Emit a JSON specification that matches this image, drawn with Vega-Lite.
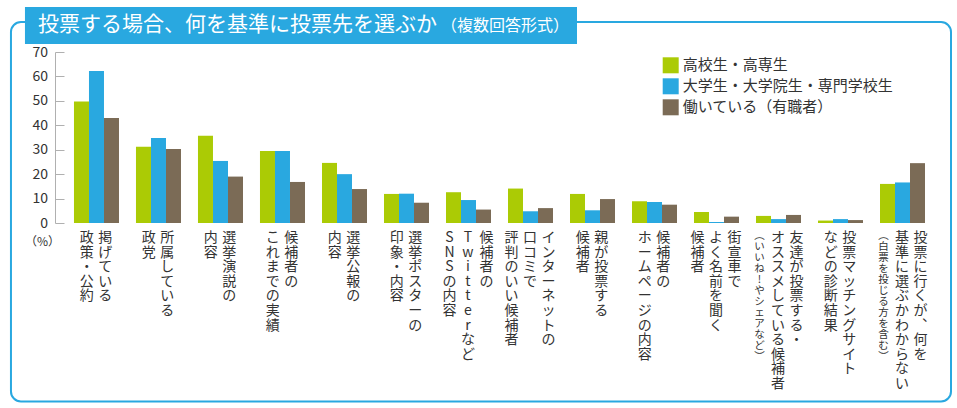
{
  "$schema": "https://vega.github.io/schema/vega-lite/v6.json",
  "width": 892,
  "height": 171,
  "autosize": {"type": "none"},
  "padding": {"left": 55, "top": 52, "right": 10, "bottom": 185},
  "background": "white",
  "config": {
    "view": {"stroke": null},
    "font": "Noto Sans CJK JP",
    "text": {"font": "Noto Sans CJK JP"}
  },
  "datasets": {
    "bars": [
      {"cat": "掲げている政策・公約", "group": "高校生・高専生", "pct": 49.7},
      {"cat": "掲げている政策・公約", "group": "大学生・大学院生・専門学校生", "pct": 62.2},
      {"cat": "掲げている政策・公約", "group": "働いている（有職者）", "pct": 43.0},
      {"cat": "所属している政党", "group": "高校生・高専生", "pct": 31.2},
      {"cat": "所属している政党", "group": "大学生・大学院生・専門学校生", "pct": 34.8},
      {"cat": "所属している政党", "group": "働いている（有職者）", "pct": 30.3},
      {"cat": "選挙演説の内容", "group": "高校生・高専生", "pct": 35.7},
      {"cat": "選挙演説の内容", "group": "大学生・大学院生・専門学校生", "pct": 25.4},
      {"cat": "選挙演説の内容", "group": "働いている（有職者）", "pct": 19.0},
      {"cat": "候補者のこれまでの実績", "group": "高校生・高専生", "pct": 29.5},
      {"cat": "候補者のこれまでの実績", "group": "大学生・大学院生・専門学校生", "pct": 29.5},
      {"cat": "候補者のこれまでの実績", "group": "働いている（有職者）", "pct": 16.8},
      {"cat": "選挙公報の内容", "group": "高校生・高専生", "pct": 24.6},
      {"cat": "選挙公報の内容", "group": "大学生・大学院生・専門学校生", "pct": 20.0},
      {"cat": "選挙公報の内容", "group": "働いている（有職者）", "pct": 13.9},
      {"cat": "選挙ポスターの印象・内容", "group": "高校生・高専生", "pct": 11.9},
      {"cat": "選挙ポスターの印象・内容", "group": "大学生・大学院生・専門学校生", "pct": 12.0},
      {"cat": "選挙ポスターの印象・内容", "group": "働いている（有職者）", "pct": 8.3},
      {"cat": "候補者のTwitterなどSNSの内容", "group": "高校生・高専生", "pct": 12.6},
      {"cat": "候補者のTwitterなどSNSの内容", "group": "大学生・大学院生・専門学校生", "pct": 9.4},
      {"cat": "候補者のTwitterなどSNSの内容", "group": "働いている（有職者）", "pct": 5.5},
      {"cat": "インターネットの口コミで評判のいい候補者", "group": "高校生・高専生", "pct": 14.1},
      {"cat": "インターネットの口コミで評判のいい候補者", "group": "大学生・大学院生・専門学校生", "pct": 4.8},
      {"cat": "インターネットの口コミで評判のいい候補者", "group": "働いている（有職者）", "pct": 6.1},
      {"cat": "親が投票する候補者", "group": "高校生・高専生", "pct": 11.9},
      {"cat": "親が投票する候補者", "group": "大学生・大学院生・専門学校生", "pct": 5.2},
      {"cat": "親が投票する候補者", "group": "働いている（有職者）", "pct": 9.8},
      {"cat": "候補者のホームページの内容", "group": "高校生・高専生", "pct": 8.9},
      {"cat": "候補者のホームページの内容", "group": "大学生・大学院生・専門学校生", "pct": 8.6},
      {"cat": "候補者のホームページの内容", "group": "働いている（有職者）", "pct": 7.5},
      {"cat": "街宣車でよく名前を聞く候補者", "group": "高校生・高専生", "pct": 4.5},
      {"cat": "街宣車でよく名前を聞く候補者", "group": "大学生・大学院生・専門学校生", "pct": 0.4},
      {"cat": "街宣車でよく名前を聞く候補者", "group": "働いている（有職者）", "pct": 2.6},
      {"cat": "友達が投票する・オススメしている候補者", "group": "高校生・高専生", "pct": 2.9},
      {"cat": "友達が投票する・オススメしている候補者", "group": "大学生・大学院生・専門学校生", "pct": 1.6},
      {"cat": "友達が投票する・オススメしている候補者", "group": "働いている（有職者）", "pct": 3.3},
      {"cat": "投票マッチングサイトなどの診断結果", "group": "高校生・高専生", "pct": 1.0},
      {"cat": "投票マッチングサイトなどの診断結果", "group": "大学生・大学院生・専門学校生", "pct": 1.6},
      {"cat": "投票マッチングサイトなどの診断結果", "group": "働いている（有職者）", "pct": 1.2},
      {"cat": "投票に行くが、何を基準に選ぶかわからない", "group": "高校生・高専生", "pct": 16.0},
      {"cat": "投票に行くが、何を基準に選ぶかわからない", "group": "大学生・大学院生・専門学校生", "pct": 16.6},
      {"cat": "投票に行くが、何を基準に選ぶかわからない", "group": "働いている（有職者）", "pct": 24.5}
    ],
    "labels": [
      {"cat": "掲げている政策・公約", "col": 0.5, "kind": "main", "t": "掲げている"},
      {"cat": "掲げている政策・公約", "col": -0.5, "kind": "main", "t": "政策・公約"},
      {"cat": "所属している政党", "col": 0.5, "kind": "main", "t": "所属している"},
      {"cat": "所属している政党", "col": -0.5, "kind": "main", "t": "政党"},
      {"cat": "選挙演説の内容", "col": 0.5, "kind": "main", "t": "選挙演説の"},
      {"cat": "選挙演説の内容", "col": -0.5, "kind": "main", "t": "内容"},
      {"cat": "候補者のこれまでの実績", "col": 0.5, "kind": "main", "t": "候補者の"},
      {"cat": "候補者のこれまでの実績", "col": -0.5, "kind": "main", "t": "これまでの実績"},
      {"cat": "選挙公報の内容", "col": 0.5, "kind": "main", "t": "選挙公報の"},
      {"cat": "選挙公報の内容", "col": -0.5, "kind": "main", "t": "内容"},
      {"cat": "選挙ポスターの印象・内容", "col": 0.5, "kind": "main", "t": "選挙ポスターの"},
      {"cat": "選挙ポスターの印象・内容", "col": -0.5, "kind": "main", "t": "印象・内容"},
      {"cat": "候補者のTwitterなどSNSの内容", "col": 1, "kind": "main", "t": "候補者の"},
      {"cat": "候補者のTwitterなどSNSの内容", "col": 0, "kind": "main", "t": "Twitterなど"},
      {"cat": "候補者のTwitterなどSNSの内容", "col": -1, "kind": "main", "t": "SNSの内容"},
      {"cat": "インターネットの口コミで評判のいい候補者", "col": 1, "kind": "main", "t": "インターネットの"},
      {"cat": "インターネットの口コミで評判のいい候補者", "col": 0, "kind": "main", "t": "口コミで"},
      {"cat": "インターネットの口コミで評判のいい候補者", "col": -1, "kind": "main", "t": "評判のいい候補者"},
      {"cat": "親が投票する候補者", "col": 0.5, "kind": "main", "t": "親が投票する"},
      {"cat": "親が投票する候補者", "col": -0.5, "kind": "main", "t": "候補者"},
      {"cat": "候補者のホームページの内容", "col": 0.5, "kind": "main", "t": "候補者の"},
      {"cat": "候補者のホームページの内容", "col": -0.5, "kind": "main", "t": "ホームページの内容"},
      {"cat": "街宣車でよく名前を聞く候補者", "col": 1, "kind": "main", "t": "街宣車で"},
      {"cat": "街宣車でよく名前を聞く候補者", "col": 0, "kind": "main", "t": "よく名前を聞く"},
      {"cat": "街宣車でよく名前を聞く候補者", "col": -1, "kind": "main", "t": "候補者"},
      {"cat": "友達が投票する・オススメしている候補者", "col": 1, "kind": "main", "t": "友達が投票する・"},
      {"cat": "友達が投票する・オススメしている候補者", "col": 0, "kind": "main", "t": "オススメしている候補者"},
      {"cat": "友達が投票する・オススメしている候補者", "col": -1, "kind": "note", "t": "︵いいね!やシェアなど︶"},
      {"cat": "投票マッチングサイトなどの診断結果", "col": 0.5, "kind": "main", "t": "投票マッチングサイト"},
      {"cat": "投票マッチングサイトなどの診断結果", "col": -0.5, "kind": "main", "t": "などの診断結果"},
      {"cat": "投票に行くが、何を基準に選ぶかわからない", "col": 1, "kind": "main", "t": "投票に行くが︑何を"},
      {"cat": "投票に行くが、何を基準に選ぶかわからない", "col": 0, "kind": "main", "t": "基準に選ぶかわからない"},
      {"cat": "投票に行くが、何を基準に選ぶかわからない", "col": -1, "kind": "note", "t": "︵白票を投じる方を含む︶"}
    ],
    "deco": [{"part": "decoration"}]
  },
  "resolve": {"scale": {"xOffset": "independent"}, "axis": {"y": "independent"}},
  "layer": [
    {
      "data": {"name": "deco"},
      "mark": {"type": "rect", "fill": "white", "fillOpacity": 0, "stroke": "#29a8e0", "strokeWidth": 2, "cornerRadius": 10},
      "encoding": {
        "x": {"datum": "掲げている政策・公約", "bandPosition": -1.4, "axis": null},
        "x2": {"datum": "投票に行くが、何を基準に選ぶかわからない", "bandPosition": 1.578},
        "y": {"datum": 82.28, "type": "quantitative", "scale": {"domain": [0, 70]}, "axis": null},
        "y2": {"datum": -73.07}
      }
    },
    {
      "data": {"name": "deco"},
      "mark": {"type": "rect", "fill": "#29a8e0"},
      "encoding": {
        "x": {"datum": "掲げている政策・公約", "bandPosition": -1.089, "axis": null},
        "x2": {"datum": "親が投票する候補者", "bandPosition": 0.156},
        "y": {"datum": 88.42, "type": "quantitative", "scale": {"domain": [0, 70]}, "axis": null},
        "y2": {"datum": 73.27}
      }
    },
    {
      "data": {"name": "deco"},
      "mark": {"type": "text", "align": "left", "baseline": "middle", "fontSize": 21, "color": "white"},
      "encoding": {
        "x": {"datum": "掲げている政策・公約", "bandPosition": -0.8, "axis": null},
        "y": {"datum": 80.85, "type": "quantitative", "scale": {"domain": [0, 70]}, "axis": null},
        "text": {"value": "投票する場合、何を基準に投票先を選ぶか"}
      }
    },
    {
      "data": {"name": "deco"},
      "mark": {"type": "text", "align": "right", "baseline": "middle", "fontSize": 16, "color": "white"},
      "encoding": {
        "x": {"datum": "親が投票する候補者", "bandPosition": -0.02, "axis": null},
        "y": {"datum": 80.7, "type": "quantitative", "scale": {"domain": [0, 70]}, "axis": null},
        "text": {"value": "（複数回答形式）"}
      }
    },
    {
      "data": {"name": "bars"},
      "mark": {"type": "bar"},
      "encoding": {
        "x": {
          "field": "cat", "type": "nominal",
          "scale": {
            "domain": ["掲げている政策・公約", "所属している政党", "選挙演説の内容", "候補者のこれまでの実績", "選挙公報の内容", "選挙ポスターの印象・内容", "候補者のTwitterなどSNSの内容", "インターネットの口コミで評判のいい候補者", "親が投票する候補者", "候補者のホームページの内容", "街宣車でよく名前を聞く候補者", "友達が投票する・オススメしている候補者", "投票マッチングサイトなどの診断結果", "投票に行くが、何を基準に選ぶかわからない"],
            "paddingInner": 0.274, "paddingOuter": 0.3306, "align": 0.463
          },
          "axis": {"labels": false, "ticks": false, "title": null, "domainColor": "#b0b0b0", "domainWidth": 1.5, "grid": false}
        },
        "xOffset": {
          "field": "group", "type": "nominal",
          "scale": {"domain": ["高校生・高専生", "大学生・大学院生・専門学校生", "働いている（有職者）"]}
        },
        "y": {
          "field": "pct", "type": "quantitative",
          "scale": {"domain": [0, 70]},
          "axis": {
            "orient": "left",
            "values": [0, 10, 20, 30, 40, 50, 60, 70],
            "grid": false, "ticks": false,
            "domainColor": "#b0b0b0",
            "labelPadding": 7.5, "labelFontSize": 14, "labelColor": "#333333",
            "title": "（%）", "titleAngle": 0, "titleX": -13, "titleY": 189,
            "titleAlign": "center", "titleBaseline": "middle", "titleFontSize": 12,
            "titleFontWeight": "normal", "titleColor": "#333333"
          }
        },
        "color": {
          "field": "group", "type": "nominal",
          "scale": {
            "domain": ["高校生・高専生", "大学生・大学院生・専門学校生", "働いている（有職者）"],
            "range": ["#abcb05", "#29a8e0", "#7b6b56"]
          },
          "legend": {
            "orient": "none", "legendX": 607.7, "legendY": 5.3, "title": null,
            "symbolType": "square", "symbolSize": 256, "symbolStrokeWidth": 0, "symbolOpacity": 1,
            "labelFontSize": 15, "labelColor": "#333333", "labelLimit": 400,
            "rowPadding": 5, "labelOffset": 4, "padding": 0
          }
        }
      }
    },
    {
      "data": {"name": "labels"},
      "transform": [
        {"filter": "datum.kind == 'main'"},
        {"calculate": "split(datum.t, '')", "as": "chars"}
      ],
      "mark": {"type": "text", "align": "center", "baseline": "top", "fontSize": 14, "lineHeight": 14.6, "dy": 8, "color": "#333333"},
      "encoding": {
        "x": {"field": "cat", "type": "nominal", "axis": null},
        "xOffset": {"field": "col", "type": "quantitative", "scale": {"domain": [-1.189, 1.243]}},
        "y": {
          "datum": 0, "type": "quantitative", "scale": {"domain": [0, 70]},
          "axis": {
            "orient": "left", "offset": -9, "values": [0, 10, 20, 30, 40, 50, 60, 70],
            "domain": false, "labels": false, "grid": false, "title": null,
            "ticks": true, "tickSize": 9, "tickColor": "#b0b0b0"
          }
        },
        "text": {"field": "chars"}
      }
    },
    {
      "data": {"name": "labels"},
      "transform": [
        {"filter": "datum.kind == 'note'"},
        {"calculate": "split(datum.t, '')", "as": "chars"}
      ],
      "mark": {"type": "text", "align": "center", "baseline": "top", "fontSize": 10.5, "lineHeight": 11, "dy": 8, "color": "#333333"},
      "encoding": {
        "x": {"field": "cat", "type": "nominal", "axis": null},
        "xOffset": {"field": "col", "type": "quantitative", "scale": {"domain": [-1.189, 1.243]}},
        "y": {"datum": 0, "type": "quantitative", "scale": {"domain": [0, 70]}, "axis": null},
        "text": {"field": "chars"}
      }
    }
  ]
}
